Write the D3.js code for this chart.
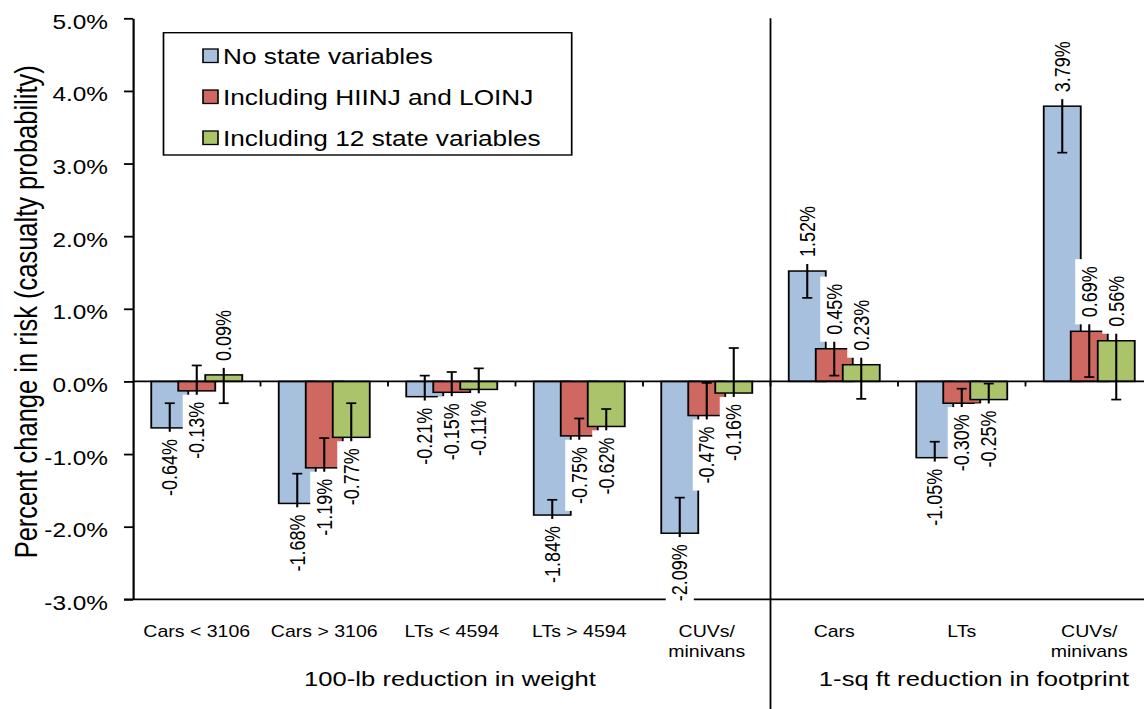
<!DOCTYPE html>
<html>
<head>
<meta charset="utf-8">
<script src="https://cdn.jsdelivr.net/npm/d3@7"></script>
<style>
  body { margin: 0; background: #fff; }
  svg { display: block; font-family: "Liberation Sans", Arial, sans-serif; }
</style>
</head>
<body>
<div id="chart"></div>
<script>
// values (percent change in casualty risk)
const categories = ["Cars < 3106", "Cars > 3106", "LTs < 4594", "LTs > 4594", "CUVs/|minivans",
                    "Cars", "LTs", "CUVs/|minivans"];
const groupTitles = ["100-lb reduction in weight", "1-sq ft reduction in footprint"];
const seriesNames = ["No state variables", "Including HIINJ and LOINJ", "Including 12 state variables"];
const seriesColors = ["#a7c0de", "#cf6860", "#abc46c"];

const noState = [-0.64, -1.68, -0.21, -1.84, -2.09, 1.52, -1.05, 3.79];
const hiLoInj = [-0.13, -1.19, -0.15, -0.75, -0.47, 0.45, -0.30, 0.69];
const state12 = [0.09, -0.77, -0.11, -0.62, -0.16, 0.23, -0.25, 0.56];

// half-width of the error bars
const noStateErr = [0.34, 0.41, 0.29, 0.21, 0.49, 0.37, 0.22, 0.64];
const hiLoInjErr = [0.35, 0.41, 0.28, 0.24, 0.45, 0.37, 0.20, 0.63];
const state12Err = [0.39, 0.47, 0.29, 0.24, 0.62, 0.47, 0.22, 0.81];

const yTicks = [-3, -2, -1, 0, 1, 2, 3, 4, 5];

const series = [
    { name: seriesNames[0], values: noState, errors: noStateErr, color: seriesColors[0] },
    { name: seriesNames[1], values: hiLoInj, errors: hiLoInjErr, color: seriesColors[1] },
    { name: seriesNames[2], values: state12, errors: state12Err, color: seriesColors[2] },
];

// the original picture is stretched sideways, so draw in a squeezed space and stretch it
const SX = 1.22;
const nx = (v) => v / SX;
let width = 1144,
    height = 709,
    margin = { top: 18.3, bottom: 599.3, left: 133, right: 1153 };
const font = "Liberation Sans, Arial, sans-serif";

const svg = d3
    .select("#chart")
    .append("svg")
    .attr("width", width)
    .attr("height", height);

const g = svg.append("g").attr("transform", `scale(${SX},1)`);

let x = d3
    .scaleBand()
    .domain(d3.range(categories.length))
    .range([nx(margin.left), nx(margin.right)]);

let y = d3
    .scaleLinear()
    .domain([-3, 5])
    .range([margin.bottom, margin.top]);

const barW = nx(37),
    barStep = nx(27),
    capW = nx(10);
const barX = (i, si) => x(i) + x.bandwidth() / 2 + (si - 1) * barStep;

// bars
series.forEach((s, si) => {
    g.append("g")
        .selectAll("rect")
        .data(s.values)
        .join("rect")
        .attr("x", (d, i) => barX(i, si) - barW / 2)
        .attr("y", (d) => Math.min(y(d), y(0)))
        .attr("width", barW)
        .attr("height", (d) => Math.abs(y(d) - y(0)))
        .attr("fill", s.color)
        .attr("stroke", "#000")
        .attr("stroke-width", 1.5);
});

// y axis
const yAxis = g.append("g")
    .attr("transform", `translate(${nx(margin.left)},0)`)
    .call(d3.axisLeft(y)
        .tickValues(yTicks)
        .tickFormat((d) => d.toFixed(1) + "%")
        .tickSize(nx(9))
        .tickSizeOuter(0)
        .tickPadding(nx(16)));
yAxis.select(".domain").attr("stroke", "#000").attr("stroke-width", 1.8);
yAxis.selectAll(".tick line").attr("stroke", "#000").attr("stroke-width", 1.8);
yAxis.selectAll(".tick text")
    .attr("font-family", font)
    .attr("font-size", 20)
    .attr("dy", "0.5em")
    .attr("fill", "#000");

// zero line with small ticks between categories
g.append("line")
    .attr("x1", nx(margin.left)).attr("x2", nx(margin.right))
    .attr("y1", y(0)).attr("y2", y(0))
    .attr("stroke", "#000").attr("stroke-width", 1.8);
g.append("g")
    .selectAll("line")
    .data(d3.range(1, categories.length))
    .join("line")
    .attr("x1", (d) => x(d)).attr("x2", (d) => x(d))
    .attr("y1", y(0)).attr("y2", y(0) + 5)
    .attr("stroke", "#000").attr("stroke-width", 1.5);

// bottom line and the divider between the two groups
g.append("line")
    .attr("x1", nx(124)).attr("x2", nx(width))
    .attr("y1", y(-3)).attr("y2", y(-3))
    .attr("stroke", "#000").attr("stroke-width", 1.8);
g.append("line")
    .attr("x1", x(5)).attr("x2", x(5))
    .attr("y1", y(5)).attr("y2", height)
    .attr("stroke", "#000").attr("stroke-width", 1.5);

// error bars
series.forEach((s, si) => {
    const eb = g.append("g")
        .selectAll("g")
        .data(s.values.map((v, i) => ({ v, e: s.errors[i], i })))
        .join("g")
        .attr("stroke", "#000")
        .attr("stroke-width", 1.7);
    eb.append("line")
        .attr("x1", (d) => barX(d.i, si)).attr("x2", (d) => barX(d.i, si))
        .attr("y1", (d) => y(d.v - d.e)).attr("y2", (d) => y(d.v + d.e));
    eb.append("line")
        .attr("x1", (d) => barX(d.i, si) - capW / 2).attr("x2", (d) => barX(d.i, si) + capW / 2)
        .attr("y1", (d) => y(d.v - d.e)).attr("y2", (d) => y(d.v - d.e));
    eb.append("line")
        .attr("x1", (d) => barX(d.i, si) - capW / 2).attr("x2", (d) => barX(d.i, si) + capW / 2)
        .attr("y1", (d) => y(d.v + d.e)).attr("y2", (d) => y(d.v + d.e));
});

// value labels on white boxes, rotated
series.forEach((s, si) => {
    const lab = g.append("g")
        .selectAll("g")
        .data(s.values)
        .join("g")
        .attr("transform", (d, i) => {
            const yy = d < 0 ? y(d) + 11 : y(d) - 14;
            return `translate(${barX(i, si)},${yy}) rotate(-90)`;
        });
    lab.append("text")
        .attr("text-anchor", (d) => (d < 0 ? "end" : "start"))
        .attr("dy", "0.35em")
        .attr("font-family", font)
        .attr("font-size", 18)
        .attr("fill", "#000")
        .text((d) => d.toFixed(2) + "%");
    lab.each(function () {
        const b = d3.select(this).select("text").node().getBBox();
        d3.select(this).insert("rect", "text")
            .attr("x", b.x - 7)
            .attr("y", b.y + b.height / 2 - 11.5)
            .attr("width", b.width + 14)
            .attr("height", 23)
            .attr("fill", "#fff");
    });
});

// category labels
const catText = g.append("g")
    .selectAll("text")
    .data(categories)
    .join("text")
    .attr("x", (d, i) => x(i) + x.bandwidth() / 2)
    .attr("y", 637)
    .attr("text-anchor", "middle")
    .attr("font-family", font)
    .attr("font-size", 16)
    .attr("fill", "#000");
catText.selectAll("tspan")
    .data((d) => d.split("|"))
    .join("tspan")
    .attr("x", function () { return d3.select(this.parentNode).attr("x"); })
    .attr("dy", (d, j) => (j === 0 ? 0 : 20.5))
    .text((d) => d);

// group titles
const titleX = [nx(450), nx(974)];
g.append("g")
    .selectAll("text")
    .data(groupTitles)
    .join("text")
    .attr("x", (d, i) => titleX[i])
    .attr("y", 686)
    .attr("text-anchor", "middle")
    .attr("font-family", font)
    .attr("font-size", 21)
    .attr("fill", "#000")
    .text((d) => d);

// y axis title
g.append("text")
    .attr("transform", `translate(${nx(26)},${(margin.top + margin.bottom) / 2 + 3}) rotate(-90)`)
    .attr("text-anchor", "middle")
    .attr("dy", "0.35em")
    .attr("font-family", font)
    .attr("font-size", 25.5)
    .attr("fill", "#000")
    .text("Percent change in risk (casualty probability)");

// legend
const legend = g.append("g");
legend.append("rect")
    .attr("x", nx(163.5)).attr("y", 32.7)
    .attr("width", nx(571.7) - nx(163.5)).attr("height", 155 - 32.7)
    .attr("fill", "#fff").attr("stroke", "#000").attr("stroke-width", 1.4);
const rows = legend.selectAll("g.row")
    .data(series)
    .join("g")
    .attr("class", "row")
    .attr("transform", (d, i) => `translate(0,${56 + i * 41})`);
rows.append("rect")
    .attr("x", nx(203)).attr("y", -7)
    .attr("width", nx(15)).attr("height", 13.5)
    .attr("fill", (d) => d.color)
    .attr("stroke", "#000").attr("stroke-width", 1.3);
rows.append("text")
    .attr("x", nx(223))
    .attr("dy", "0.35em")
    .attr("font-family", font)
    .attr("font-size", 21.5)
    .attr("fill", "#000")
    .text((d) => d.name);
</script>
</body>
</html>
